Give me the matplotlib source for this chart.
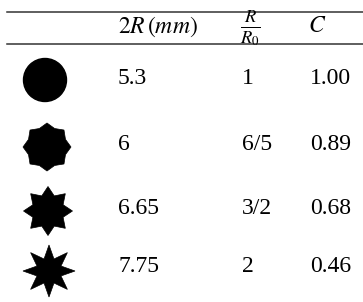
import numpy as np
import matplotlib
matplotlib.use("Agg")
from matplotlib import pyplot as plt
from matplotlib.patches import Circle, Polygon

plt.rcParams["font.family"] = "Liberation Serif"
plt.rcParams["mathtext.fontset"] = "stix"

diameters = ["5.3", "6", "6.65", "7.75"]
ratio_labels = ["1", "6/5", "3/2", "2"]
ratios = [1.0, 6 / 5, 3 / 2, 2.0]
c_values = ["1.00", "0.89", "0.68", "0.46"]
headers = [r"$2R\,(mm)$", r"$\frac{R}{R_0}$", r"$C$"]


def star(cx, cy, outer, ratio, n=8):
    inner = outer / ratio
    pts = []
    for k in range(2 * n):
        ang = np.pi / 2 + k * np.pi / n
        r = outer if k % 2 == 0 else inner
        pts.append((cx + r * np.cos(ang), cy - r * np.sin(ang)))
    return Polygon(pts, closed=True, facecolor="black", edgecolor="black", lw=0.5)


fig = plt.figure(figsize=(3.63, 3.02), dpi=100)
ax = fig.add_axes([0, 0, 1, 1])
ax.set_xlim(0, 363)
ax.set_ylim(302, 0)
ax.axis("off")

# rules
ax.plot([7, 363], [12, 12], color="#333333", lw=1.1)
ax.plot([7, 363], [44, 44], color="#333333", lw=1.1)

fs = 17
ax.text(118, 27, headers[0], fontsize=fs, va="center", ha="left")
ax.text(240, 28, headers[1], fontsize=19, va="center", ha="left")
ax.text(308, 27, headers[2], fontsize=fs, va="center", ha="left")

row_y = [79, 145, 209, 267]
shape_x = [45, 47, 48, 49]
shape_dy = [1, 2, 2, 4]
outer_px = [21.5, 24, 24.5, 26]

for i in range(len(diameters)):
    y = row_y[i]
    if ratios[i] == 1.0:
        ax.add_patch(Circle((shape_x[i], y + shape_dy[i]), outer_px[i], color="black"))
    else:
        ax.add_patch(star(shape_x[i], y + shape_dy[i], outer_px[i], ratios[i]))
    ax.text(118, y, diameters[i], fontsize=fs, va="center", ha="left")
    ax.text(242, y, ratio_labels[i], fontsize=fs, va="center", ha="left")
    ax.text(310, y, c_values[i], fontsize=fs, va="center", ha="left")

fig.savefig("out.png", dpi=100)
